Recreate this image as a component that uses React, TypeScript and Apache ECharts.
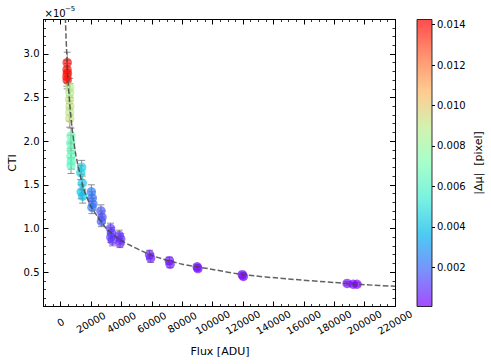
import { useEffect, useRef } from 'react';
import * as echarts from 'echarts';

// ---- data (CTI in units of 1e-5) ----
const flux = [
  4300, 4200, 4400, 4100, 4300,
  5900, 6000, 5800, 6100, 5900, 6000,
  6800, 6600, 6900, 6700, 7000, 6800,
  13800, 13200, 14200, 13500, 14500,
  20200, 20800, 21200, 20600,
  26500, 27200, 26800,
  32800, 33400, 33000, 34000,
  38500, 39500, 39000,
  58500, 59200,
  71500, 72000,
  89800, 90300,
  119500, 120200,
  188500, 192500, 195000,
];
const cti = [
  2.90, 2.82, 2.78, 2.74, 2.70,
  2.62, 2.56, 2.48, 2.40, 2.33, 2.26,
  2.06, 1.98, 1.90, 1.83, 1.77, 1.72,
  1.70, 1.64, 1.52, 1.42, 1.37,
  1.42, 1.35, 1.28, 1.24,
  1.20, 1.13, 1.08,
  1.00, 0.95, 0.90, 0.86,
  0.92, 0.88, 0.83,
  0.70, 0.66,
  0.63, 0.59,
  0.56, 0.54,
  0.47, 0.45,
  0.37, 0.36, 0.36,
];
const ctiErr = [
  0.12, 0.11, 0.11, 0.11, 0.10,
  0.10, 0.10, 0.10, 0.10, 0.10, 0.10,
  0.09, 0.09, 0.09, 0.09, 0.09, 0.09,
  0.08, 0.08, 0.08, 0.08, 0.08,
  0.08, 0.07, 0.07, 0.07,
  0.07, 0.07, 0.06,
  0.06, 0.06, 0.06, 0.06,
  0.06, 0.06, 0.05,
  0.05, 0.05,
  0.04, 0.04,
  0.03, 0.03,
  0.03, 0.03,
  0.02, 0.02, 0.02,
];
const dmu = [
  0.0140, 0.0139, 0.0141, 0.0138, 0.0140,
  0.0088, 0.0087, 0.0090, 0.0092, 0.0089, 0.0093,
  0.0068, 0.0066, 0.0065, 0.0067, 0.0063, 0.0064,
  0.0044, 0.0046, 0.0042, 0.0041, 0.0040,
  0.0024, 0.0022, 0.0021, 0.0023,
  0.0016, 0.0015, 0.0017,
  0.0011, 0.0010, 0.0012, 0.0009,
  0.0008, 0.0009, 0.0007,
  0.0005, 0.0006,
  0.0004, 0.0005,
  0.0004, 0.0003,
  0.0003, 0.0002,
  0.0002, 0.0002, 0.0001,
];

// dashed fit curve
const fitFlux = [2800, 3300, 4000, 5000, 6000, 7500, 10000, 15000, 20000, 30000, 40000, 60000, 80000, 100000, 120000, 150000, 180000, 200000, 220000];
const fitCti = [3.60, 3.30, 3.00, 2.65, 2.42, 2.15, 1.84, 1.46, 1.25, 1.00, 0.86, 0.69, 0.59, 0.53, 0.47, 0.42, 0.38, 0.355, 0.337];

const xMajorTicks = [0, 20000, 40000, 60000, 80000, 100000, 120000, 140000, 160000, 180000, 200000, 220000];
const yMajorTicks = [0.5, 1.0, 1.5, 2.0, 2.5, 3.0];
const cbTicks = [0.002, 0.004, 0.006, 0.008, 0.010, 0.012, 0.014];

const X_MIN = -11300, X_MAX = 220000;
const Y_MIN = 0.105, Y_MAX = 3.395;
const CB_MIN = 0.00007, CB_MAX = 0.01425;

const xMinorTicks: number[] = [];
for (let v = -10000; v <= 215000; v += 5000) if (v % 20000 !== 0) xMinorTicks.push(v);
const yMinorTicks: number[] = [];
for (let k = 2; k <= 33; k++) if (k % 5 !== 0) yMinorTicks.push(k / 10);

const rainbow = [
  [128, 0, 255], [64, 98, 250], [0, 180, 236], [64, 236, 212], [128, 255, 180],
  [191, 236, 142], [255, 180, 98], [255, 98, 50], [255, 0, 0],
];
const rgba = (a: number) => rainbow.map(c => `rgba(${c[0]},${c[1]},${c[2]},${a})`);
const barColors = rgba(0.7);
const markerColors = rgba(0.85);

const FONT = 'DejaVu Sans';
const GRID = { left: 43.5, top: 19.5, width: 351.5, height: 287 };
const CB = { left: 417, top: 19.5, width: 15, height: 287 };

const lineBlack = { color: '#000', width: 1 };

function xAxisDef(pos: string, ticks: number[], len: number, showLine: boolean, labels: boolean) {
  return {
    type: 'value', gridIndex: 0, position: pos, min: X_MIN, max: X_MAX,
    axisLine: { show: showLine, onZero: false, lineStyle: lineBlack },
    axisTick: { show: true, inside: true, length: len, customValues: ticks, lineStyle: { color: '#000', width: len > 3 ? 1 : 0.8 } },
    axisLabel: labels ? {
      show: true, customValues: ticks, formatter: (v: number) => String(v),
      rotate: 30, align: 'center', verticalAlign: 'middle', margin: 16,
      fontSize: 10, color: '#000', fontFamily: FONT,
    } : { show: false },
    splitLine: { show: false },
  };
}
function yAxisDef(pos: string, ticks: number[], len: number, showLine: boolean, labels: boolean) {
  return {
    type: 'value', gridIndex: 0, position: pos, min: Y_MIN, max: Y_MAX,
    axisLine: { show: showLine, onZero: false, lineStyle: lineBlack },
    axisTick: { show: true, inside: true, length: len, customValues: ticks, lineStyle: { color: '#000', width: len > 3 ? 1 : 0.8 } },
    axisLabel: labels ? {
      show: true, customValues: ticks, formatter: (v: number) => v.toFixed(1),
      margin: 4, fontSize: 10, color: '#000', fontFamily: FONT,
    } : { show: false },
    splitLine: { show: false },
  };
}

export default function App() {
  const ref = useRef<HTMLDivElement>(null);
  useEffect(() => {
    if (!ref.current) return;
    const chart = echarts.init(ref.current, undefined, { renderer: 'svg' });
    const scatterData = flux.map((f, i) => [f, cti[i], dmu[i]]);
    const errData = flux.map((f, i) => [f, cti[i] - ctiErr[i], cti[i] + ctiErr[i]]);
    const fitData = fitFlux.map((f, i) => [f, fitCti[i]]);
    const option: any = {
      animation: false,
      backgroundColor: '#fff',
      grid: [
        { ...GRID, outerBoundsMode: 'none', containLabel: false },
        { ...CB, outerBoundsMode: 'none', containLabel: false },
      ],
      xAxis: [
        xAxisDef('bottom', xMajorTicks, 5, true, true),
        xAxisDef('bottom', xMinorTicks, 2.5, false, false),
        xAxisDef('top', xMajorTicks, 5, true, false),
        xAxisDef('top', xMinorTicks, 2.5, false, false),
        { type: 'value', gridIndex: 1, min: 0, max: 1, show: false },
      ],
      yAxis: [
        yAxisDef('left', yMajorTicks, 5, true, true),
        yAxisDef('left', yMinorTicks, 2.5, false, false),
        yAxisDef('right', yMajorTicks, 5, true, false),
        yAxisDef('right', yMinorTicks, 2.5, false, false),
        {
          type: 'value', gridIndex: 1, position: 'right', min: CB_MIN, max: CB_MAX,
          axisLine: { show: false, onZero: false },
          axisTick: { show: true, inside: false, length: 3, customValues: cbTicks, lineStyle: { color: '#000', width: 1 } },
          axisLabel: { show: true, customValues: cbTicks, formatter: (v: number) => v.toFixed(3), margin: 5, fontSize: 10, color: '#000', fontFamily: FONT },
          splitLine: { show: false },
        },
      ],
      visualMap: {
        show: false, type: 'continuous', min: CB_MIN, max: CB_MAX, dimension: 2, seriesIndex: 1,
        inRange: { color: markerColors },
      },
      series: [
        {
          type: 'custom', xAxisIndex: 0, yAxisIndex: 0, z: 2, silent: true,
          data: errData,
          encode: { x: 0, y: [1, 2] },
          renderItem: (params: any, api: any) => {
            const x = api.value(0);
            const lo = api.coord([x, api.value(1)]);
            const hi = api.coord([x, api.value(2)]);
            const c = 3.5;
            const style = { stroke: 'rgba(115,115,115,0.8)', lineWidth: 1, fill: 'none' };
            return {
              type: 'group',
              children: [
                { type: 'line', shape: { x1: lo[0], y1: lo[1], x2: hi[0], y2: hi[1] }, style },
                { type: 'line', shape: { x1: lo[0] - c, y1: lo[1], x2: lo[0] + c, y2: lo[1] }, style },
                { type: 'line', shape: { x1: hi[0] - c, y1: hi[1], x2: hi[0] + c, y2: hi[1] }, style },
              ],
            };
          },
        },
        {
          type: 'scatter', xAxisIndex: 0, yAxisIndex: 0, z: 3, silent: true,
          symbol: 'circle', symbolSize: 9.5,
          data: scatterData,
          itemStyle: { borderWidth: 0 },
        },
        {
          type: 'line', xAxisIndex: 0, yAxisIndex: 0, z: 5, silent: true,
          data: fitData, symbol: 'none', smooth: 0.2, clip: true,
          lineStyle: { color: 'rgba(70,70,70,0.85)', width: 1.5, type: [5.5, 2.4] },
        },
      ],
      graphic: [
        {
          type: 'rect', z: 10, silent: true,
          shape: { x: CB.left, y: CB.top, width: CB.width, height: CB.height },
          style: {
            fill: {
              type: 'linear', x: 0, y: 1, x2: 0, y2: 0,
              colorStops: barColors.map((c, i) => ({ offset: i / (barColors.length - 1), color: c })),
            },
            stroke: '#000', lineWidth: 0.8,
          },
        },
        {
          type: 'text', z: 10, x: 44.5, y: 13, silent: true,
          style: { text: '×10', font: `10px "${FONT}"`, fill: '#000', textAlign: 'left', textVerticalAlign: 'middle' },
        },
        {
          type: 'text', z: 10, x: 65, y: 8.5, silent: true,
          style: { text: '−5', font: `7px "${FONT}"`, fill: '#000', textAlign: 'left', textVerticalAlign: 'middle' },
        },
        {
          type: 'text', z: 10, x: 12, y: 163, rotation: Math.PI / 2, silent: true,
          style: { text: 'CTI', font: `11px "${FONT}"`, fill: '#000', textAlign: 'center', textVerticalAlign: 'middle' },
        },
        {
          type: 'text', z: 10, x: 220, y: 351, silent: true,
          style: { text: 'Flux [ADU]', font: `11px "${FONT}"`, fill: '#000', textAlign: 'center', textVerticalAlign: 'middle' },
        },
        {
          type: 'text', z: 10, x: 478, y: 163, rotation: Math.PI / 2, silent: true,
          style: { text: '|Δμ|  [pixel]', font: `11px "${FONT}"`, fill: '#000', textAlign: 'center', textVerticalAlign: 'middle' },
        },
      ],
    };
    chart.setOption(option);
    return () => chart.dispose();
  }, []);
  return <div ref={ref} style={{ position: 'fixed', left: 0, top: 0, width: 491, height: 364 }} />;
}
